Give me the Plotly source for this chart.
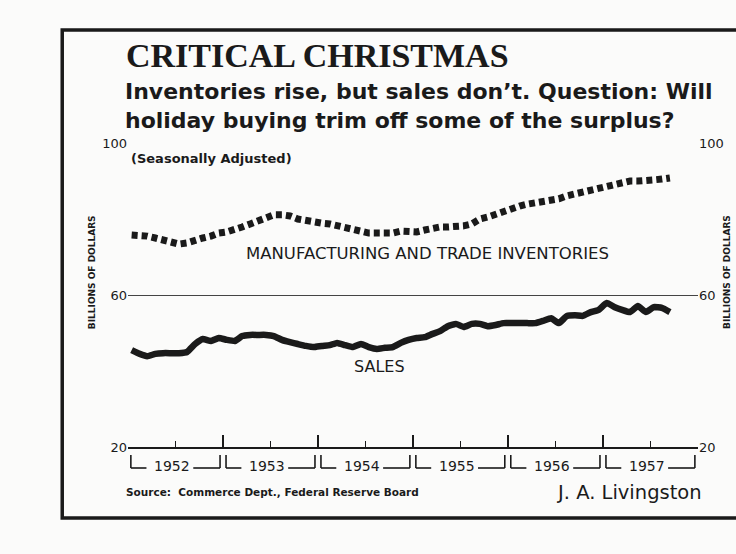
import plotly.graph_objects as go

# ---- data (billions of dollars, seasonally adjusted, monthly Jan 1952 - Sep 1957) ----
months = [f"{1952 + i // 12}-{i % 12 + 1:02d}-15" for i in range(69)]

inventories = [
    75.8, 75.8, 75.5, 75.0, 74.5, 73.9, 73.4, 73.7, 74.5, 75.0, 75.5, 76.3,
    76.6, 77.1, 77.9, 78.7, 79.5, 80.3, 81.1, 81.1, 80.8, 80.0, 79.5, 79.2,
    78.9, 78.7, 78.2, 77.9, 77.4, 76.8, 76.3, 76.3, 76.3, 76.3, 76.8, 76.6,
    76.6, 77.1, 77.6, 77.9, 77.9, 77.9, 78.2, 78.7, 80.0, 80.5, 81.3, 81.8,
    82.6, 83.4, 83.9, 84.2, 84.5, 85.0, 85.3, 86.1, 86.6, 87.1, 87.9, 88.4,
    88.7, 89.5, 89.7, 90.0, 90.0, 90.0, 90.3, 90.5, 90.8,
]

sales = [
    45.5, 44.5, 43.9, 44.5, 44.7, 44.7, 44.7, 45.0, 47.1, 48.4, 47.9, 48.7,
    48.2, 47.9, 49.2, 49.5, 49.5, 49.5, 49.2, 48.2, 47.6, 47.1, 46.6, 46.3,
    46.6, 46.8, 47.4, 46.8, 46.3, 47.1, 46.3, 45.8, 46.1, 46.3, 47.4, 48.2,
    48.7, 48.9, 49.7, 50.5, 51.8, 52.4, 51.6, 52.4, 52.4, 51.8, 52.1, 52.6,
    52.6, 52.6, 52.6, 52.6, 53.2, 53.9, 52.6, 54.5, 54.7, 54.5, 55.5, 56.1,
    57.9, 56.8, 56.1, 55.5, 57.1, 55.5, 56.8, 56.6, 55.5,
]

years = [1952, 1953, 1954, 1955, 1956, 1957]
y_ticks = [20, 60, 100]

# ---- layout geometry helpers (pixel -> paper) ----
W, H = 736, 554
L, R, T, B = 128, 36, 143, 107
PW, PH = W - L - R, H - T - B


def xp(px):
    return (px - L) / PW


def yp(py):
    return (H - B - py) / PH


INK = "#1a1a1a"
SANS = "DejaVu Sans, Lato, sans-serif"

fig = go.Figure()

fig.add_trace(go.Scatter(
    x=months, y=inventories, mode="lines",
    line=dict(color=INK, width=7, dash="6px,4px"),
    hoverinfo="skip", showlegend=False,
))
fig.add_trace(go.Scatter(
    x=months, y=sales, mode="lines",
    line=dict(color=INK, width=6.5, shape="spline", smoothing=0.4),
    hoverinfo="skip", showlegend=False,
))
# invisible trace to carry the right-hand axis
fig.add_trace(go.Scatter(
    x=[months[0]], y=[sales[0]], yaxis="y2", mode="lines",
    line=dict(width=0), hoverinfo="skip", showlegend=False,
))

shapes = []
annotations = []

# frame around the whole chart
shapes.append(dict(type="rect", xref="paper", yref="paper",
                   x0=xp(62), x1=xp(760), y0=yp(518), y1=yp(30),
                   line=dict(color=INK, width=3.5), layer="below"))

# year brackets under the axis
for yr in years:
    a = f"{yr}-01-12"
    b = f"{yr}-12-20"
    la = f"{yr}-03-12"
    rb = f"{yr}-09-08"
    ytop, ybot = yp(455), yp(468)
    for seg in [(a, a, ytop, ybot), (a, la, ybot, ybot), (b, b, ytop, ybot), (rb, b, ybot, ybot)]:
        shapes.append(dict(type="line", xref="x", yref="paper",
                           x0=seg[0], x1=seg[1], y0=seg[2], y1=seg[3],
                           line=dict(color=INK, width=1.6)))
    annotations.append(dict(x=f"{yr}-06-20", y=yp(466), xref="x", yref="paper",
                            text=str(yr), showarrow=False,
                            font=dict(family=SANS, size=14, color=INK),
                            xanchor="center", yanchor="middle"))

annotations += [
    dict(x=xp(124), y=yp(55), xref="paper", yref="paper", text="<b>CRITICAL CHRISTMAS</b>",
         showarrow=False, xanchor="left", yanchor="middle",
         font=dict(family="Liberation Serif, serif", size=34, color=INK)),
    dict(x=xp(123), y=yp(91), xref="paper", yref="paper",
         text="<b>Inventories rise, but sales don’t. Question: Will</b>",
         showarrow=False, xanchor="left", yanchor="middle",
         font=dict(family=SANS, size=22, color=INK)),
    dict(x=xp(123), y=yp(120), xref="paper", yref="paper",
         text="<b>holiday buying trim off some of the surplus?</b>",
         showarrow=False, xanchor="left", yanchor="middle",
         font=dict(family=SANS, size=22, color=INK)),
    dict(x=xp(129), y=yp(158), xref="paper", yref="paper",
         text="<b>(Seasonally Adjusted)</b>", showarrow=False,
         xanchor="left", yanchor="middle",
         font=dict(family=SANS, size=13, color=INK)),
    dict(x=xp(429), y=yp(253), xref="paper", yref="paper",
         text="MANUFACTURING AND TRADE INVENTORIES", showarrow=False,
         xanchor="center", yanchor="middle",
         font=dict(family=SANS, size=16.5, color=INK)),
    dict(x=xp(380), y=yp(366), xref="paper", yref="paper",
         text="SALES", showarrow=False, xanchor="center", yanchor="middle",
         font=dict(family=SANS, size=16, color=INK)),
    dict(x=xp(92), y=yp(272), xref="paper", yref="paper",
         text="<b>BILLIONS OF DOLLARS</b>", showarrow=False, textangle=-90,
         xanchor="center", yanchor="middle",
         font=dict(family=SANS, size=9, color=INK)),
    dict(x=xp(729), y=yp(272), xref="paper", yref="paper",
         text="<b>BILLIONS OF DOLLARS</b>", showarrow=False, textangle=-90,
         xanchor="center", yanchor="middle",
         font=dict(family=SANS, size=9, color=INK)),
    dict(x=xp(124), y=yp(492), xref="paper", yref="paper",
         text="<b>Source:  Commerce Dept., Federal Reserve Board</b>",
         showarrow=False, xanchor="left", yanchor="middle",
         font=dict(family=SANS, size=10.5, color=INK)),
    dict(x=xp(706), y=yp(492), xref="paper", yref="paper",
         text="J. A. Livingston", showarrow=False, xanchor="right", yanchor="middle",
         font=dict(family=SANS, size=19.5, color=INK)),
]

fig.update_layout(
    width=W, height=H,
    margin=dict(l=L, r=R, t=T, b=B),
    paper_bgcolor="#fbfbfa", plot_bgcolor="#fbfbfa",
    showlegend=False,
    shapes=shapes, annotations=annotations,
    xaxis=dict(
        type="date", range=["1952-01-01", "1958-01-01"],
        tickvals=[f"{y}-01-01" for y in years + [1958]],
        ticks="inside", ticklen=12, tickwidth=1.6, tickcolor=INK,
        showticklabels=False, showgrid=False, zeroline=False,
        showline=True, linecolor=INK, linewidth=2,
        minor=dict(tickvals=[f"{y}-07-01" for y in years],
                   ticks="inside", ticklen=6, tickwidth=1.2, tickcolor=INK),
    ),
    yaxis=dict(
        range=[20, 100], tickvals=y_ticks, ticks="",
        showgrid=True, gridcolor="#444", gridwidth=1.4,
        zeroline=False, showline=False,
        tickfont=dict(family=SANS, size=13, color=INK),
    ),
    yaxis2=dict(
        range=[20, 100], tickvals=y_ticks, ticks="", overlaying="y", side="right",
        showgrid=False, zeroline=False, showline=False,
        tickfont=dict(family=SANS, size=13, color=INK),
    ),
)

fig.write_html(
    "out.html",
    config={"displayModeBar": False},
    post_script="document.body.style.margin='0';document.body.style.overflow='hidden';",
)
